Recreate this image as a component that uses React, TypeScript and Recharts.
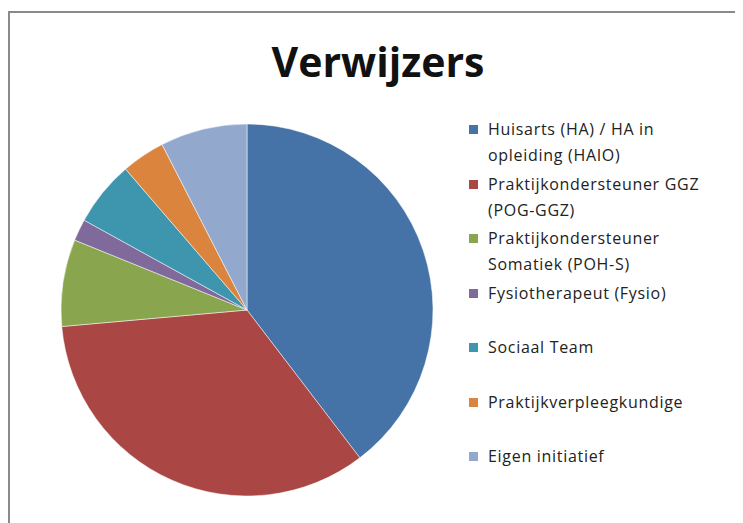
import { PieChart, Pie, Cell, Legend } from "recharts"

const categories = [
  "Huisarts (HA) / HA in opleiding (HAIO)",
  "Praktijkondersteuner GGZ (POG-GGZ)",
  "Praktijkondersteuner Somatiek (POH-S)",
  "Fysiotherapeut (Fysio)",
  "Sociaal Team",
  "Praktijkverpleegkundige",
  "Eigen initiatief",
]
const counts = [21, 18, 4, 1, 3, 2, 4]
const colors = ["#4572A7", "#AA4643", "#89A54E", "#80699B", "#3D96AE", "#DB843D", "#92A8CD"]

const data = categories.map((name, i) => ({ name, value: counts[i] }))

const fontFamily = "'Open Sans', 'Noto Sans', sans-serif"

function LegendList() {
  return (
    <div style={{ fontFamily, fontSize: 16, letterSpacing: 0.7, color: "#222" }}>
      {categories.map((name, i) => (
        <div key={name} style={{ display: "flex", alignItems: "flex-start", height: 54.5 }}>
          <span
            style={{
              display: "inline-block",
              width: 9,
              height: 9,
              marginTop: 9,
              marginRight: 10,
              background: colors[i],
              flexShrink: 0,
            }}
          />
          <span style={{ lineHeight: "26px", width: 235 }}>{name}</span>
        </div>
      ))}
    </div>
  )
}

export default function App() {
  return (
    <div style={{ position: "relative", width: 735, height: 515, overflow: "hidden", background: "#fff" }}>
      <div
        style={{
          position: "absolute",
          left: 0,
          top: 3,
          width: 780,
          height: 560,
          borderTop: "2px solid #8a8a8a",
          borderLeft: "2px solid #8a8a8a",
        }}
      />
      <div
        style={{
          position: "absolute",
          left: 0,
          top: 31,
          width: 740,
          textAlign: "center",
          fontFamily,
          fontWeight: 700,
          fontSize: 41,
          lineHeight: "44px",
          color: "#111",
        }}
      >
        Verwijzers
      </div>
      <PieChart width={735} height={515} style={{ position: "absolute", left: 0, top: 0 }}>
        <Pie
          data={data}
          dataKey="value"
          nameKey="name"
          cx={234}
          cy={297}
          outerRadius={186}
          startAngle={90}
          endAngle={-270}
          stroke="rgba(255,255,255,0.5)"
          strokeWidth={1}
          isAnimationActive={false}
        >
          {data.map((d, i) => (
            <Cell key={d.name} fill={colors[i]} />
          ))}
        </Pie>
        <Legend
          layout="vertical"
          content={() => <LegendList />}
          wrapperStyle={{ left: 461, top: 108, width: 270 }}
        />
      </PieChart>
    </div>
  )
}
